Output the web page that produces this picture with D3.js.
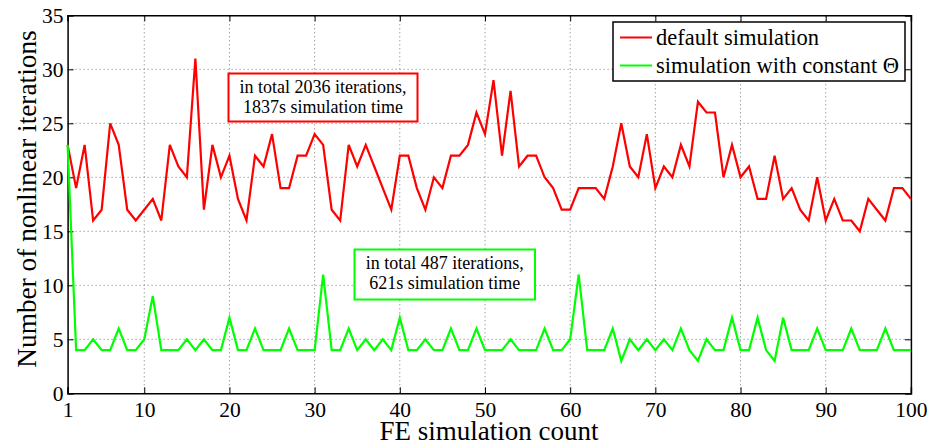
<!DOCTYPE html>
<html><head><meta charset="utf-8">
<script src="https://cdn.jsdelivr.net/npm/d3@7"></script>
</head><body style="margin:0;background:#fff"><svg id="c" width="930" height="444" style="display:block"></svg>
<script>
const defaultSim = [23,19,23,16,17,25,23,17,16,17,18,16,23,21,20,31,17,23,20,22,18,16,22,21,24,19,19,22,22,24,23,17,16,23,21,23,21,19,17,22,22,19,17,20,19,22,22,23,26,24,29,22,28,21,22,22,20,19,17,17,19,19,19,18,21,25,21,20,24,19,21,20,23,21,27,26,26,20,23,20,21,18,18,22,18,19,17,16,20,16,18,16,16,15,18,17,16,19,19,18];
const constTheta = [23,4,4,5,4,4,6,4,4,5,9,4,4,4,5,4,5,4,4,7,4,4,6,4,4,4,6,4,4,4,11,4,4,6,4,5,4,5,4,7,4,4,5,4,4,6,4,4,6,4,4,4,5,4,4,4,6,4,4,5,11,4,4,4,6,3,5,4,5,4,5,4,6,4,3,5,4,4,7,4,4,7,4,3,7,4,4,4,6,4,4,4,6,4,4,4,6,4,4,4];
const xTicks = [1,10,20,30,40,50,60,70,80,90,100];
const yTicks = [0,5,10,15,20,25,30,35];
const seriesNames = ["default simulation","simulation with constant \u0398"];
const noteRed = ["in total 2036 iterations,","1837s simulation time"];
const noteGreen = ["in total 487 iterations,","621s simulation time"];

const FONT = "Liberation Serif";
const svg = d3.select("#c");
const L=67.6,R=910.9,T=15.3,B=393.3;
const x = d3.scaleLinear().domain([1,100]).range([L,R]);
const y = d3.scaleLinear().domain([0,35]).range([B,T]);

// grid
const g = svg.append("g");
g.selectAll(".gx").data(xTicks.filter(d=>d>1&&d<100)).enter().append("line")
 .attr("x1",d=>x(d)).attr("x2",d=>x(d)).attr("y1",B).attr("y2",T)
 .attr("stroke","#777").attr("stroke-width",1).attr("stroke-dasharray","1,3");
g.selectAll(".gy").data(yTicks.filter(d=>d>0&&d<35)).enter().append("line")
 .attr("x1",L).attr("x2",R).attr("y1",d=>y(d)).attr("y2",d=>y(d))
 .attr("stroke","#777").attr("stroke-width",1).attr("stroke-dasharray","1,3");

// axes
const xb = svg.append("g").attr("transform",`translate(0,${B})`)
 .call(d3.axisBottom(x).tickValues(xTicks).tickSize(-6).tickPadding(8.5).tickFormat(d3.format("d")));
const xt = svg.append("g").attr("transform",`translate(0,${T})`)
 .call(d3.axisTop(x).tickValues(xTicks).tickSize(-6).tickFormat(""));
const yl = svg.append("g").attr("transform",`translate(${L},0)`)
 .call(d3.axisLeft(y).tickValues(yTicks).tickSize(-6).tickPadding(4));
const yr = svg.append("g").attr("transform",`translate(${R},0)`)
 .call(d3.axisRight(y).tickValues(yTicks).tickSize(-6).tickFormat(""));
[xb,xt,yl,yr].forEach(a=>{a.attr("font-family",FONT).attr("font-size",21.5);
 a.select(".domain").attr("stroke","#000").attr("stroke-width",1.5);
 a.selectAll(".tick line").attr("stroke","#000").attr("stroke-width",1);
 a.selectAll("text").attr("font-family",FONT).attr("font-size",21.5).attr("fill","#000");});

// lines
const line = d3.line().x((d,i)=>x(i+1)).y(d=>y(d));
svg.append("path").datum(defaultSim).attr("d",line).attr("fill","none").attr("stroke","#ff0000").attr("stroke-width",2.2);
svg.append("path").datum(constTheta).attr("d",line).attr("fill","none").attr("stroke","#00ff00").attr("stroke-width",2.2);

// annotations
function note(x0,y0,x1,y1,col,lines,off,sp){
  svg.append("rect").attr("x",x0).attr("y",y0).attr("width",x1-x0).attr("height",y1-y0)
   .attr("fill","#fff").attr("stroke",col).attr("stroke-width",2);
  lines.forEach((t,i)=>svg.append("text").attr("font-family",FONT).attr("x",(x0+x1)/2).attr("y",y0+off+i*sp)
   .attr("text-anchor","middle").attr("font-size",18).text(t));
}
note(228.5,73.5,417.5,121.5,"#ff0000",noteRed,19.5,19.5);
note(354.5,249.5,535,299.5,"#00ff00",noteGreen,19,20);

// legend
const lg = svg.append("g");
lg.append("rect").attr("x",613).attr("y",22).attr("width",292).attr("height",59).attr("fill","#fff").attr("stroke","#000").attr("stroke-width",1.5);
const cols=["#ff0000","#00ff00"];
seriesNames.forEach((n,i)=>{
  const yy = 37.5 + i*28;
  lg.append("line").attr("x1",620).attr("x2",652).attr("y1",yy).attr("y2",yy).attr("stroke",cols[i]).attr("stroke-width",2);
  lg.append("text").attr("font-family",FONT).attr("x",656).attr("y",yy+7.5).attr("font-size",22.5).text(n);
});

// axis labels
svg.append("text").attr("font-family",FONT).attr("x",489).attr("y",440).attr("text-anchor","middle").attr("font-size",27).text("FE simulation count");
svg.append("text").attr("font-family",FONT).attr("transform",`translate(35.5,199) rotate(-90)`).attr("text-anchor","middle").attr("font-size",27.3).text("Number of nonlinear iterations");
</script></body></html>
